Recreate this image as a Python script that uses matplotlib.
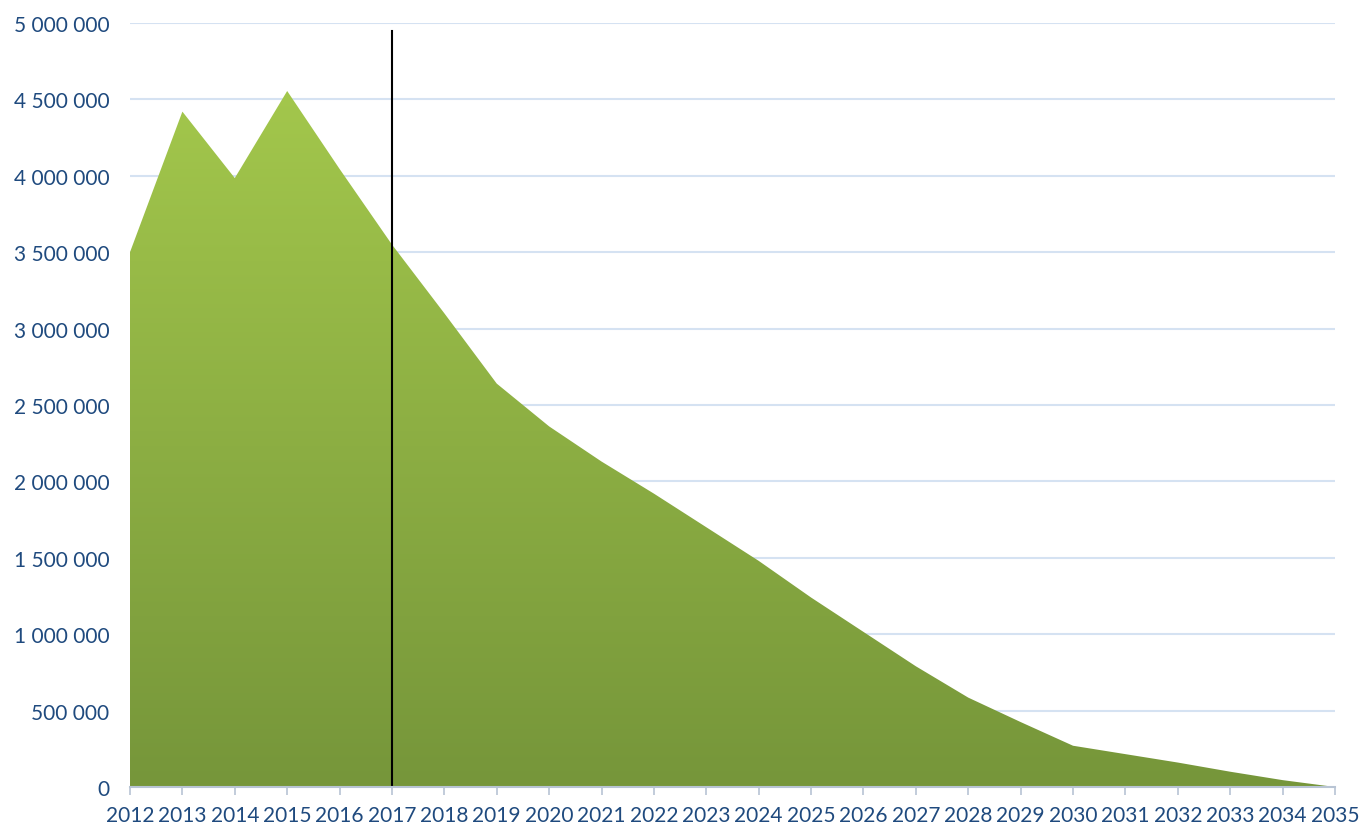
import matplotlib
matplotlib.use("Agg")
import matplotlib.pyplot as plt
import numpy as np
from matplotlib.colors import LinearSegmentedColormap

years = list(range(2012, 2036))
values = [3500000, 4420000, 3985000, 4555000, 4045000, 3550000, 3100000, 2640000,
          2360000, 2130000, 1920000, 1700000, 1480000, 1240000, 1015000, 790000,
          585000, 425000, 270000, 215000, 160000, 100000, 45000, 0]
marker_year = 2017
marker_top = 4950000
yticks = list(range(0, 5000001, 500000))

def fmt(v):
    return f"{v:,}".replace(",", " ")

fig = plt.figure(figsize=(13.61, 8.29), dpi=100)
ax = fig.add_axes([130/1361, 1-788/829, (1335-130)/1361, (788-24)/829])

label_color = "#1f4a7e"
ax.set_xlim(years[0], years[-1])
ax.set_ylim(0, 5000000)

for t in yticks[1:]:
    ax.axhline(t, color="#d5e2f2", lw=1.5, zorder=0)

poly = ax.fill_between(years, values, 0, color="none", lw=0, zorder=1)
cmap = LinearSegmentedColormap.from_list("g", ["#76963a", "#a3c74c"])
grad = np.linspace(0, 1, 256).reshape(-1, 1)
im = ax.imshow(grad, cmap=cmap, aspect="auto", origin="lower",
               extent=[years[0], years[-1], 0, max(values)], zorder=1)
im.set_clip_path(poly.get_paths()[0], transform=ax.transData)

ax.plot([marker_year, marker_year], [0, marker_top], color="black", lw=1.5, zorder=3)

for s in ["top", "right", "left"]:
    ax.spines[s].set_visible(False)
ax.spines["bottom"].set_color("#b8c4d4")
ax.spines["bottom"].set_linewidth(1.5)
ax.spines["bottom"].set_zorder(4)

ax.set_xticks(years)
ax.set_xticklabels([str(y) for y in years], fontsize=15, color=label_color, family="Lato")
ax.tick_params(axis="x", length=6, width=1.2, color="#b8c4d4", pad=7)
ax.set_yticks(yticks)
ax.set_yticklabels([fmt(v) for v in yticks], fontsize=15, color=label_color, family="Lato")
ax.tick_params(axis="y", length=0, pad=15)

fig.savefig("out.png", dpi=100, facecolor="white")
